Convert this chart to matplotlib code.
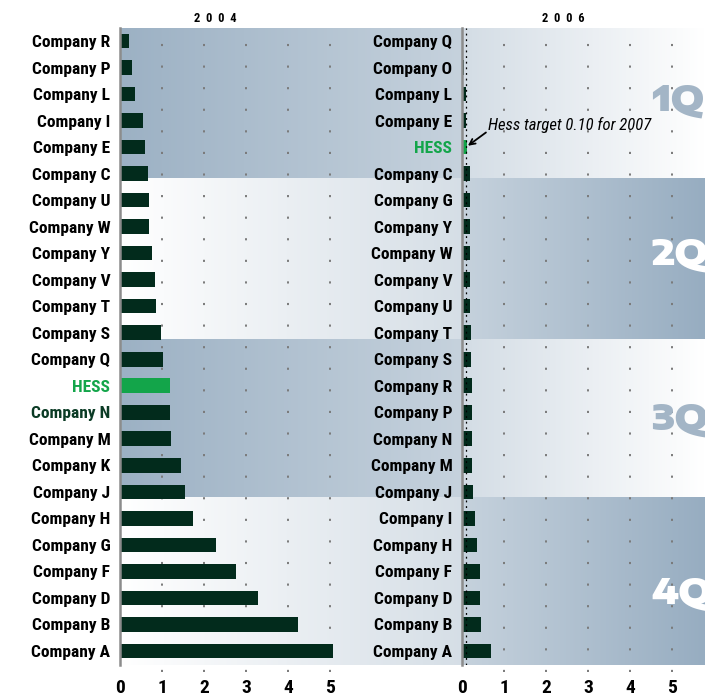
import numpy as np
import matplotlib
matplotlib.use('Agg')
import matplotlib.pyplot as plt
from matplotlib.colors import LinearSegmentedColormap

# 2004 panel (top to bottom)
names_2004 = ['Company R', 'Company P', 'Company L', 'Company I', 'Company E', 'Company C',
              'Company U', 'Company W', 'Company Y', 'Company V', 'Company T', 'Company S',
              'Company Q', 'HESS', 'Company N', 'Company M', 'Company K', 'Company J',
              'Company H', 'Company G', 'Company F', 'Company D', 'Company B', 'Company A']
vals_2004 = [0.21, 0.29, 0.36, 0.54, 0.60, 0.67,
             0.69, 0.70, 0.76, 0.83, 0.86, 0.98,
             1.02, 1.19, 1.19, 1.21, 1.45, 1.54,
             1.74, 2.29, 2.76, 3.29, 4.24, 5.07]

# 2006 panel (top to bottom)
names_2006 = ['Company Q', 'Company O', 'Company L', 'Company E', 'HESS', 'Company C',
              'Company G', 'Company Y', 'Company W', 'Company V', 'Company U', 'Company T',
              'Company S', 'Company R', 'Company P', 'Company N', 'Company M', 'Company J',
              'Company I', 'Company H', 'Company F', 'Company D', 'Company B', 'Company A']
vals_2006 = [0.03, 0.04, 0.10, 0.09, 0.11, 0.18,
             0.18, 0.19, 0.19, 0.19, 0.19, 0.21,
             0.21, 0.23, 0.23, 0.25, 0.25, 0.27,
             0.32, 0.35, 0.42, 0.44, 0.46, 0.70]

quarters = ['1Q', '2Q', '3Q', '4Q']
hess_target = 0.10
ticks = [0, 1, 2, 3, 4, 5]

DARK = '#022b1c'
GREEN = '#13a54a'
NARROW = ['Roboto Condensed', 'DejaVu Sans']

W, H = 705, 698
fig = plt.figure(figsize=(W / 100, H / 100), dpi=100)

# pixel layout
top_px, bot_px = 28, 665
x0_px, xm_px = 120, 462
px_per_unit = 42.0
ylo, yhi = 23.53, -0.49
band_edges = [-0.49, 5.2, 11.24, 17.23, 23.53]

cmap = LinearSegmentedColormap.from_list('band', ['#97adc1', '#ffffff'])

ax_l = fig.add_axes([x0_px / W, 1 - bot_px / H, (xm_px - x0_px) / W, (bot_px - top_px) / H])
ax_r = fig.add_axes([xm_px / W, 1 - bot_px / H, (W - xm_px) / W, (bot_px - top_px) / H])

xmax_l = (xm_px - x0_px) / px_per_unit
xmax_r = (W - xm_px) / px_per_unit

# band gradients: (left start, left end), (right start, right end)
grads = [((0.05, 0.45), (0.58, 1.0)), ((1.0, 0.6), (0.45, 0.0))]
for i in range(4):
    gl, gr = grads[i % 2]
    for ax, (t0, t1), xmax in [(ax_l, gl, xmax_l), (ax_r, gr, xmax_r)]:
        g = np.linspace(t0, t1, 256)[None, :]
        ax.imshow(g, cmap=cmap, vmin=0, vmax=1, aspect='auto',
                  extent=(0, xmax, band_edges[i + 1], band_edges[i]), zorder=0)

y = np.arange(len(names_2004))
for ax, names, vals, xmax in [(ax_l, names_2004, vals_2004, xmax_l),
                              (ax_r, names_2006, vals_2006, xmax_r)]:
    colors = [GREEN if n == 'HESS' else DARK for n in names]
    ax.barh(y, vals, height=0.55, color=colors, zorder=3)
    for t in ticks[1:]:
        ax.plot([t, t], [23.8, -0.49], color='#7a7a7a', lw=1.4,
                ls=(0, (1.1, 10)), clip_on=False, zorder=2)
    ax.set_xlim(0, xmax)
    ax.set_ylim(ylo, yhi)
    for s in ['top', 'right', 'bottom']:
        ax.spines[s].set_visible(False)
    ax.spines['left'].set_color('#8c8c8c')
    ax.spines['left'].set_linewidth(1.8)
    ax.spines['left'].set_zorder(5)
    ax.set_xticks(ticks)
    ax.set_xticklabels([str(t) for t in ticks], fontsize=14, fontweight='bold', family=NARROW)
    ax.set_yticks(y)
    ax.set_yticklabels(names, fontsize=12.5, fontweight='bold', family=NARROW)
    ax.tick_params(length=0)
    ax.tick_params(axis='x', pad=10)
    ax.tick_params(axis='y', pad=7)
    for lab in ax.get_yticklabels():
        if lab.get_text() == 'HESS':
            lab.set_color(GREEN)
ax_l.get_yticklabels()[names_2004.index('Company N')].set_color('#0b3b25')

# Hess target line and note
ax_r.axvline(hess_target, color='black', lw=0.9, ls=(0, (1.5, 3)), zorder=4)
ax_r.text(0.62, 3.15, 'Hess target 0.10 for 2007', fontsize=12, style='italic',
          family=NARROW, va='center', ha='left', zorder=6)
ax_r.annotate('', xy=(0.14, 3.95), xytext=(0.57, 3.45),
              arrowprops=dict(arrowstyle='->', color='black', lw=1.3,
                              shrinkA=0, shrinkB=0, mutation_scale=10), zorder=6)

# year headers
fig.text(215 / W, 1 - 18 / H, '2  0  0  4', fontsize=9, fontweight='bold',
         family=NARROW, ha='center', va='center')
fig.text(563 / W, 1 - 18 / H, '2  0  0  6', fontsize=9, fontweight='bold',
         family=NARROW, ha='center', va='center')

# quarter labels (clipped at right edge, as in the original)
q_y = [100, 254, 419, 593]
q_col = ['#a3b5c6', '#ffffff', '#a3b5c6', '#ffffff']
for q, yy, c in zip(quarters, q_y, q_col):
    fig.text(651 / W, 1 - yy / H, q, fontsize=26, fontweight=900,
             family=['Encode Sans Expanded', 'DejaVu Sans'], color=c, ha='left', va='center')

fig.savefig('out.png', dpi=100)
